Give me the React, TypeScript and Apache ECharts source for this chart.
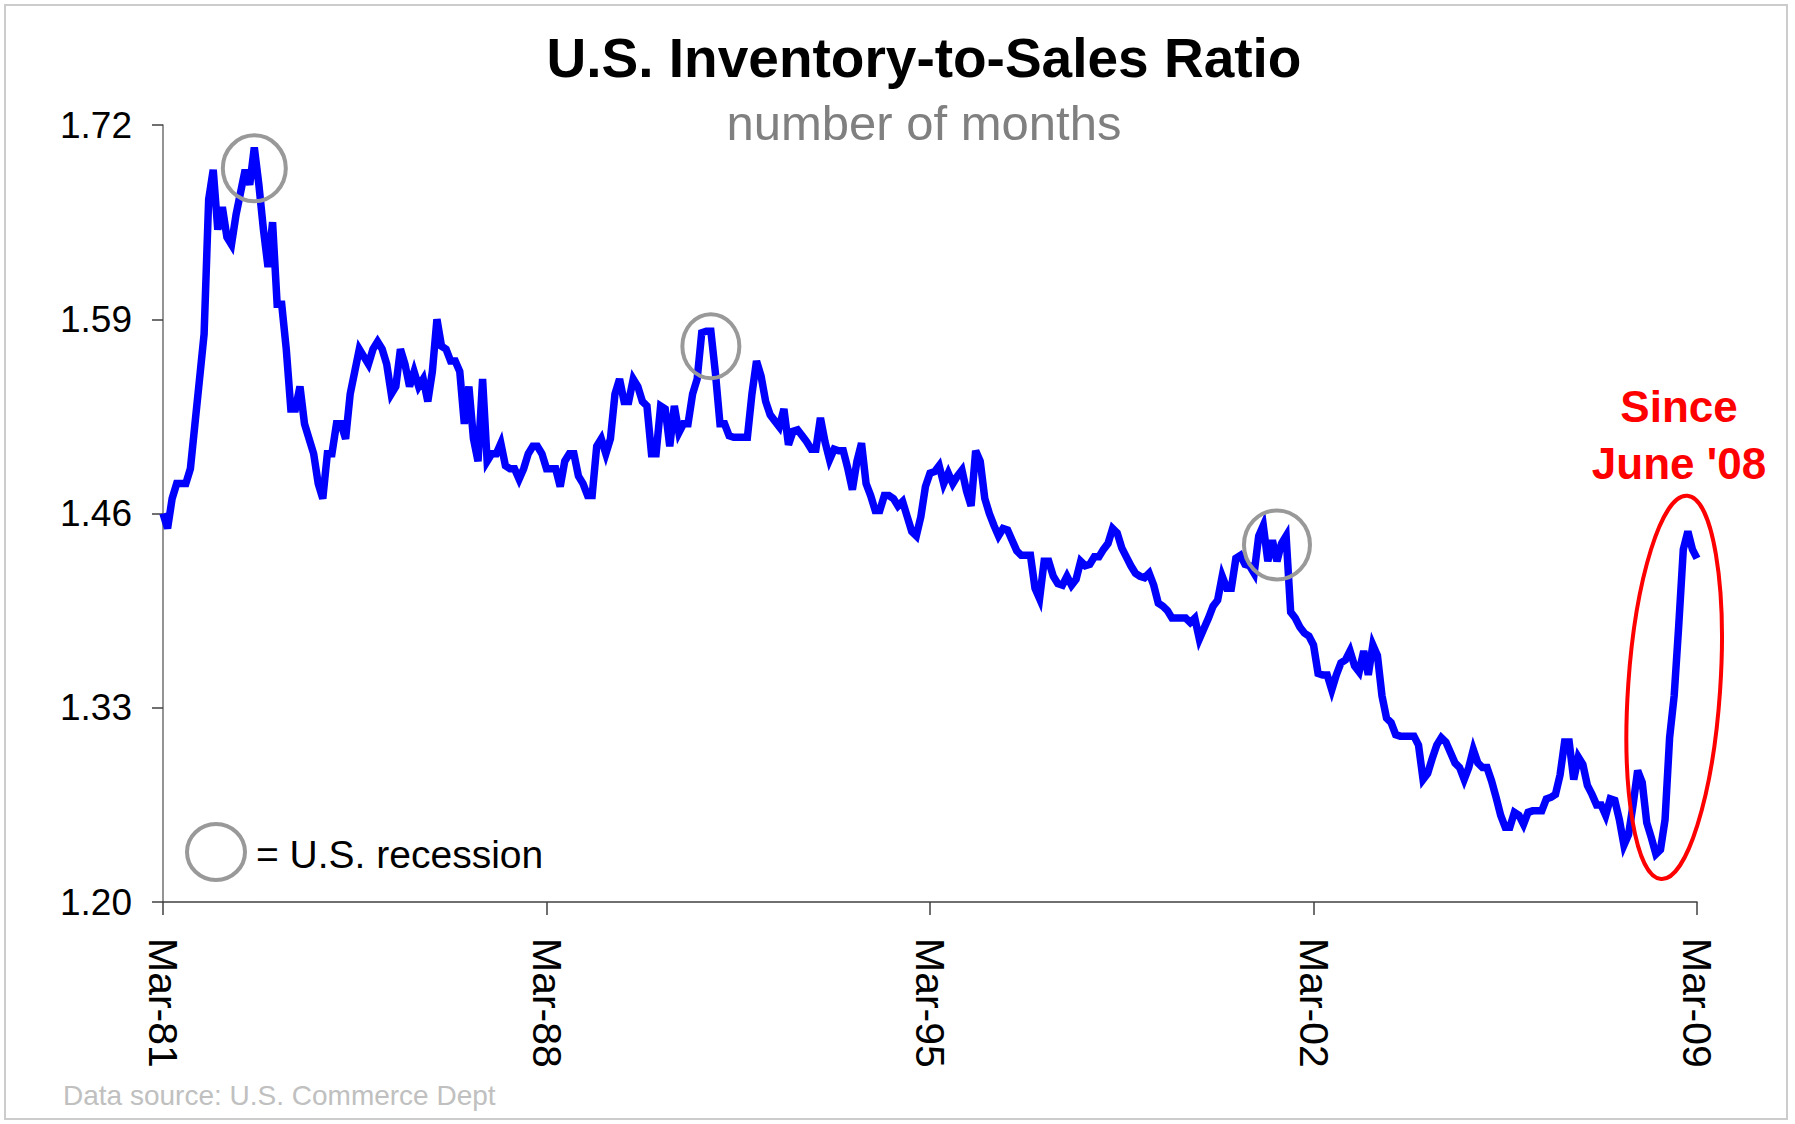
import React, { useEffect, useRef } from "react";
import * as echarts from "echarts";

// Monthly U.S. inventory-to-sales ratio, Mar-81 onwards
const ratioMar81toFeb88 = [
  1.46, 1.45, 1.47, 1.48, 1.48, 1.48, 1.49, 1.52, 1.55, 1.58, 1.67, 1.69,
  1.65, 1.665, 1.645, 1.64, 1.66, 1.675, 1.69, 1.68, 1.705, 1.68, 1.65, 1.625,
  1.655, 1.6, 1.6, 1.57, 1.53, 1.53, 1.545, 1.52, 1.51, 1.5, 1.48, 1.47,
  1.5, 1.5, 1.52, 1.52, 1.51, 1.54, 1.555, 1.57, 1.565, 1.56, 1.57, 1.575,
  1.57, 1.56, 1.54, 1.545, 1.57, 1.56, 1.545, 1.555, 1.545, 1.55, 1.535, 1.555,
  1.59, 1.572, 1.57, 1.562, 1.562, 1.555, 1.52, 1.545, 1.51, 1.495, 1.55, 1.495,
  1.5, 1.5, 1.507, 1.492, 1.49, 1.49, 1.483, 1.49, 1.5, 1.505, 1.505, 1.5,
];
const ratioMar88toFeb95 = [
  1.49, 1.49, 1.49, 1.478, 1.495, 1.5, 1.5, 1.485, 1.48, 1.472, 1.472, 1.505,
  1.51, 1.5, 1.51, 1.54, 1.55, 1.535, 1.535, 1.55, 1.545, 1.535, 1.532, 1.5,
  1.5, 1.532, 1.53, 1.505, 1.532, 1.514, 1.52, 1.52, 1.54, 1.55, 1.581, 1.582,
  1.582, 1.554, 1.52, 1.52, 1.512, 1.511, 1.511, 1.511, 1.511, 1.54, 1.562, 1.552,
  1.535, 1.526, 1.522, 1.518, 1.53, 1.506, 1.515, 1.516, 1.512, 1.508, 1.503, 1.503,
  1.524, 1.508, 1.496, 1.503, 1.502, 1.502, 1.49, 1.476, 1.495, 1.507, 1.48, 1.472,
  1.462, 1.462, 1.472, 1.472, 1.47, 1.465, 1.468, 1.458, 1.448, 1.445, 1.458, 1.478,
];
const ratioMar95toFeb02 = [
  1.487, 1.488, 1.492, 1.48, 1.487, 1.48, 1.485, 1.489, 1.475, 1.465, 1.502, 1.495,
  1.47, 1.46, 1.452, 1.445, 1.45, 1.449, 1.442, 1.435, 1.432, 1.432, 1.432, 1.41,
  1.403, 1.428, 1.428, 1.418, 1.413, 1.412, 1.418, 1.412, 1.416, 1.428, 1.425, 1.426,
  1.431, 1.431, 1.436, 1.44, 1.45, 1.447, 1.437, 1.431, 1.425, 1.42, 1.418, 1.417,
  1.42, 1.412, 1.4, 1.398, 1.395, 1.39, 1.39, 1.39, 1.39, 1.387, 1.39, 1.376,
  1.383, 1.39, 1.398, 1.402, 1.418, 1.41, 1.41, 1.43, 1.432, 1.426, 1.425, 1.42,
  1.445, 1.452, 1.428, 1.442, 1.428, 1.44, 1.445, 1.394, 1.39, 1.384, 1.38, 1.378,
];
const ratioMar02toMar09 = [
  1.372, 1.353, 1.352, 1.352, 1.342, 1.352, 1.36, 1.362, 1.368, 1.358, 1.354, 1.368,
  1.352, 1.372, 1.365, 1.338, 1.323, 1.32, 1.312, 1.311, 1.311, 1.311, 1.311, 1.305,
  1.282, 1.286, 1.296, 1.305, 1.31, 1.307, 1.3, 1.293, 1.29, 1.282, 1.29, 1.302,
  1.293, 1.29, 1.29, 1.281, 1.27, 1.258, 1.25, 1.25, 1.26, 1.258, 1.252, 1.26,
  1.261, 1.261, 1.261, 1.269, 1.27, 1.272, 1.285, 1.307, 1.307, 1.282, 1.297, 1.292,
  1.278, 1.272, 1.265, 1.265, 1.258, 1.269, 1.268, 1.255, 1.238, 1.245, 1.265, 1.288,
  1.28, 1.253, 1.243, 1.232, 1.235, 1.255, 1.31, 1.338, 1.385, 1.436, 1.448, 1.436,
  1.43,
];

const ratioValues = [
  ...ratioMar81toFeb88,
  ...ratioMar88toFeb95,
  ...ratioMar95toFeb02,
  ...ratioMar02toMar09,
];

const monthNames = ["Jan", "Feb", "Mar", "Apr", "May", "Jun", "Jul", "Aug", "Sep", "Oct", "Nov", "Dec"];
const firstYear = 1981;
const firstMonth = 2; // March
const categories: string[] = ratioValues.map((_, i) => {
  const mi = firstMonth + i;
  const yr = (firstYear + Math.floor(mi / 12)) % 100;
  return `${monthNames[mi % 12]}-${String(yr).padStart(2, "0")}`;
});

const yTickLabels = ["1.20", "1.33", "1.46", "1.59", "1.72"];
const yMin = 1.2;
const yMax = 1.72;

const titleText = "U.S. Inventory-to-Sales Ratio";
const subtitleText = "number of months";
const legendText = "= U.S. recession";
const sourceText = "Data source: U.S. Commerce Dept";
const noteLines = ["Since", "June '08"];

// Recession circles anchored on data coordinates (category, value)
const recessionAnchors: [string, number][] = [
  ["Nov-82", 1.691],
  ["Mar-91", 1.572],
  ["Jul-01", 1.439],
];
const highlightAnchor: [string, number] = ["Oct-08", 1.3436];

const FONT = "'Liberation Sans', Arial, Helvetica, sans-serif";

export default function App() {
  const ref = useRef<HTMLDivElement>(null);

  useEffect(() => {
    if (!ref.current) return;
    const chart = echarts.init(ref.current, undefined, { renderer: "svg" });

    const option: any = {
      animation: false,
      backgroundColor: "#ffffff",
      grid: { left: 163, right: 98, top: 125, bottom: 222, containLabel: false },
      xAxis: {
        type: "category",
        data: categories,
        boundaryGap: false,
        axisLine: { show: true, lineStyle: { color: "#404040", width: 1.5 } },
        axisTick: { show: true, interval: 83, length: 13, lineStyle: { color: "#404040", width: 1.5 } },
        axisLabel: {
          interval: 83,
          rotate: -90,
          margin: 36,
          fontSize: 41,
          fontFamily: FONT,
          color: "#000000",
        },
        splitLine: { show: false },
      },
      yAxis: [
        {
          type: "value",
          min: yMin,
          max: yMax,
          show: false,
          splitLine: { show: false },
        },
        {
          type: "value",
          position: "left",
          min: 0,
          max: yTickLabels.length - 1,
          interval: 1,
          axisLine: { show: true, lineStyle: { color: "#707070", width: 1.5 } },
          axisTick: { show: true, length: 11, lineStyle: { color: "#404040", width: 1.5 } },
          axisLabel: {
            margin: 31,
            fontSize: 37,
            fontFamily: FONT,
            color: "#000000",
            formatter: (v: number) => yTickLabels[Math.round(v)] ?? "",
          },
          splitLine: { show: false },
        },
      ],
      series: [
        {
          type: "line",
          name: "Inventory-to-Sales Ratio",
          data: ratioValues,
          yAxisIndex: 0,
          symbol: "none",
          showSymbol: false,
          lineStyle: { color: "#0000ff", width: 7.5, join: "miter", miterLimit: 4 },
          z: 3,
        },
      ],
    };
    chart.setOption(option);

    const toPx = (a: [string, number]) =>
      chart.convertToPixel({ xAxisIndex: 0, yAxisIndex: 0 }, a as any) as number[];

    const circleSizes = [
      [31.5, 33],
      [28.5, 32],
      [33, 34.5],
    ];
    const circles = recessionAnchors.map((a, i) => {
      const p = toPx(a);
      return {
        type: "ellipse",
        shape: { cx: p[0], cy: p[1], rx: circleSizes[i][0], ry: circleSizes[i][1] },
        style: { fill: "none", stroke: "#999999", lineWidth: 4 },
        z: 10,
      };
    });
    const hp = toPx(highlightAnchor);

    chart.setOption({
      graphic: [
        {
          type: "rect",
          shape: { x: 5, y: 5, width: 1782, height: 1114 },
          style: { fill: "none", stroke: "#cccccc", lineWidth: 2 },
          z: 1,
        },
        {
          type: "text",
          x: 924,
          y: 58,
          style: {
            text: titleText,
            font: `bold 55px ${FONT}`,
            fill: "#000000",
            textAlign: "center",
            textVerticalAlign: "middle",
          },
        },
        {
          type: "text",
          x: 924,
          y: 123,
          style: {
            text: subtitleText,
            font: `49px ${FONT}`,
            fill: "#808080",
            textAlign: "center",
            textVerticalAlign: "middle",
          },
        },
        ...circles,
        {
          type: "ellipse",
          x: hp[0],
          y: hp[1],
          rotation: -0.068,
          shape: { cx: 0, cy: 0, rx: 46, ry: 192 },
          style: { fill: "none", stroke: "#ff0000", lineWidth: 4 },
          z: 10,
        },
        {
          type: "text",
          x: 1679,
          y: 406,
          style: {
            text: noteLines[0],
            font: `bold 44px ${FONT}`,
            fill: "#ff0000",
            textAlign: "center",
            textVerticalAlign: "middle",
          },
        },
        {
          type: "text",
          x: 1679,
          y: 463,
          style: {
            text: noteLines[1],
            font: `bold 44px ${FONT}`,
            fill: "#ff0000",
            textAlign: "center",
            textVerticalAlign: "middle",
          },
        },
        {
          type: "ellipse",
          shape: { cx: 216, cy: 852, rx: 29, ry: 28 },
          style: { fill: "none", stroke: "#999999", lineWidth: 4 },
          z: 10,
        },
        {
          type: "text",
          x: 256,
          y: 854,
          style: {
            text: legendText,
            font: `39px ${FONT}`,
            fill: "#000000",
            textAlign: "left",
            textVerticalAlign: "middle",
          },
        },
        {
          type: "text",
          x: 63,
          y: 1095,
          style: {
            text: sourceText,
            font: `28px ${FONT}`,
            fill: "#c0c0c0",
            textAlign: "left",
            textVerticalAlign: "middle",
          },
        },
      ],
    });

    return () => chart.dispose();
  }, []);

  return (
    <div
      ref={ref}
      style={{ position: "absolute", left: 0, top: 0, width: 1795, height: 1124, background: "#ffffff" }}
    />
  );
}
